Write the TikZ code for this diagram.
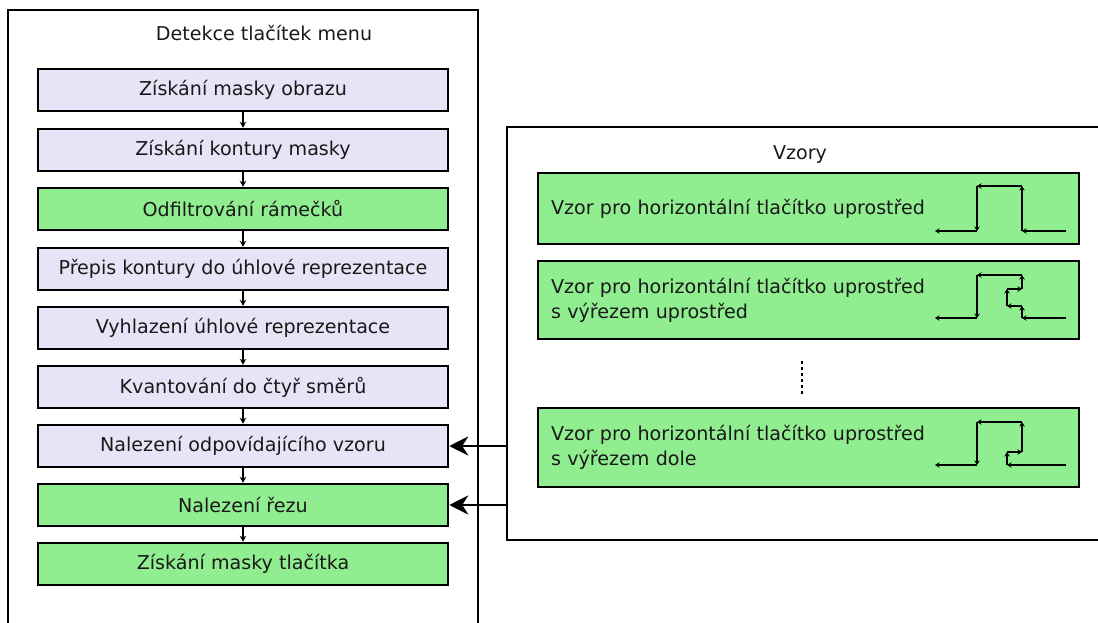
\documentclass[tikz,border=0pt]{standalone}
\usepackage{fontspec}
\setmainfont{DejaVu Sans}
\usetikzlibrary{arrows.meta}

\definecolor{lavfill}{RGB}{229,229,247}
\definecolor{grnfill}{RGB}{144,238,144}
\definecolor{ink}{RGB}{25,25,25}

\begin{document}
\begin{tikzpicture}[x=1pt,y=-1pt,
  txt/.style={font=\fontsize{19.1}{25}\selectfont, text=ink},
  frame/.style={draw, line width=2.5pt, inner sep=0pt},
  stepbox/.style={txt, draw, line width=2.5pt, minimum width=410pt,
    minimum height=42pt, inner sep=0pt},
  lav/.style={stepbox, fill=lavfill},
  grn/.style={stepbox, fill=grnfill},
  patbox/.style={txt, draw, line width=2.5pt, fill=grnfill, inner xsep=13pt,
    inner ysep=0pt, text width=515pt, align=left, minimum width=541pt},
  flow/.style={line width=2pt, -{Stealth[length=6pt,width=6.5pt]}},
  feed/.style={line width=2.3pt, -{Stealth[length=19pt,width=19pt,inset=6pt]}},
  seg/.style={line width=2.9pt, -{Stealth[length=4.5pt,width=5.5pt]}}
]
\useasboundingbox (0,0) rectangle (1098,623);

% outer frames (their far edges run off the page)
\node[frame, minimum width=470pt, minimum height=640pt] (outer) at (243,330) {};
\node[frame, minimum width=613pt, minimum height=413pt] (vzory) at (813.5,333.5) {};

\node[txt] (t1) at (264,33) {Detekce tlačítek menu};
\node[txt] (t2) at (800,155) {Vzory};

% processing steps
\node[lav] (b1) at (243,90)  {Získání masky obrazu};
\node[lav] (b2) at (243,150) {Získání kontury masky};
\node[grn] (b3) at (243,209) {Odfiltrování rámečků};
\node[lav] (b4) at (243,269) {Přepis kontury do úhlové reprezentace};
\node[lav] (b5) at (243,328) {Vyhlazení úhlové reprezentace};
\node[lav] (b6) at (243,387) {Kvantování do čtyř směrů};
\node[lav] (b7) at (243,446) {Nalezení odpovídajícího vzoru};
\node[grn] (b8) at (243,505) {Nalezení řezu};
\node[grn] (b9) at (243,564) {Získání masky tlačítka};

\foreach \a/\b in {b1/b2,b2/b3,b3/b4,b4/b5,b5/b6,b6/b7,b7/b8,b8/b9}
  \draw[flow] (\a.south) -- (\b.north);

% patterns
\node[patbox, minimum height=71pt] (p1) at (808.5,208.5)
  {Vzor pro horizontální tlačítko uprostřed};
\node[patbox, minimum height=78pt] (p2) at (808.5,300)
  {Vzor pro horizontální tlačítko uprostřed\\s výřezem uprostřed};
\node[patbox, minimum height=79pt] (p3) at (808.5,447.5)
  {Vzor pro horizontální tlačítko uprostřed\\s výřezem dole};

\draw[line width=2.6pt, dash pattern=on 2.6pt off 3.4pt] (802,361) -- (802,394);

% pattern contours
\draw[seg] (1066,231) -- (1022,231);
\draw[seg] (1022,231) -- (1022,186);
\draw[seg] (1022,186) -- (977,186);
\draw[seg] (977,186) -- (977,231);
\draw[seg] (977,231) -- (935,231);

\draw[seg] (1066,318) -- (1022,318);
\draw[seg] (1022,318) -- (1022,306);
\draw[seg] (1022,306) -- (1007,306);
\draw[seg] (1007,306) -- (1007,289);
\draw[seg] (1007,289) -- (1022,289);
\draw[seg] (1022,289) -- (1022,275);
\draw[seg] (1022,275) -- (977,275);
\draw[seg] (977,275) -- (977,318);
\draw[seg] (977,318) -- (935,318);

\draw[seg] (1066,465) -- (1007,465);
\draw[seg] (1007,465) -- (1007,452);
\draw[seg] (1007,452) -- (1022,452);
\draw[seg] (1022,452) -- (1022,422);
\draw[seg] (1022,422) -- (977,422);
\draw[seg] (977,422) -- (977,465);
\draw[seg] (977,465) -- (935,465);

% patterns feeding the steps
\draw[feed] (vzory.west |- b7.east) -- (b7.east);
\draw[feed] (vzory.west |- b8.east) -- (b8.east);
\end{tikzpicture}
\end{document}
